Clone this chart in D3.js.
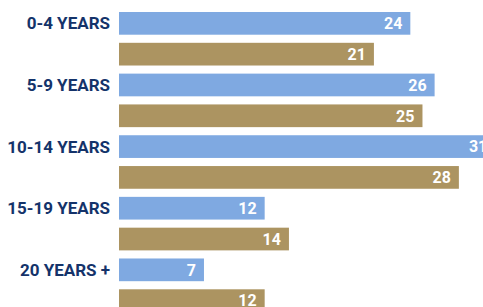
<!DOCTYPE html>
<html>
<head>
<meta charset="utf-8">
<script src="https://cdn.jsdelivr.net/npm/d3@7"></script>
<style>
	body { margin: 0; background: #fff; overflow: hidden; }
	svg { display: block; }
</style>
</head>
<body>
<div id="draw"></div>
<script>
var categories = ['0-4 YEARS', '5-9 YEARS', '10-14 YEARS', '15-19 YEARS', '20 YEARS +'];
var seriesA = [24, 26, 31, 12, 7];
var seriesB = [21, 25, 28, 14, 12];

var width = 483,
	height = 307;

var svg = d3
	.select('#draw')
	.append('svg')
	.attr('width', width)
	.attr('height', height);

// one row per bar, two rows per category
var rows = [];
categories.forEach(function (c, i) {
	rows.push({ cat: c, value: seriesA[i], color: '#7fa9e1', first: true });
	rows.push({ cat: c, value: seriesB[i], color: '#ac9461', first: false });
});

var x = d3.scaleLinear().domain([0, 31]).range([119, 495.3]);

var y = d3
	.scaleBand()
	.domain(d3.range(rows.length))
	.range([12, 312])
	.paddingInner(0.263)
	.paddingOuter(0);

var bars = svg
	.selectAll('.row')
	.data(rows)
	.enter()
	.append('g')
	.attr('class', 'row');

bars
	.append('rect')
	.attr('x', x(0))
	.attr('y', function (d, i) {
		return y(i);
	})
	.attr('width', function (d) {
		return x(d.value) - x(0);
	})
	.attr('height', y.bandwidth())
	.style('fill', function (d) {
		return d.color;
	});

bars
	.append('text')
	.attr('x', function (d) {
		return x(d.value) - 8;
	})
	.attr('y', function (d, i) {
		return y(i) + y.bandwidth() / 2;
	})
	.attr('dy', '0.36em')
	.style('text-anchor', 'end')
	.style('font-family', 'Roboto, sans-serif')
	.style('font-weight', 'bold')
	.style('font-size', '16px')
	.style('fill', '#fff')
	.text(function (d) {
		return d.value;
	});

bars
	.filter(function (d) {
		return d.first;
	})
	.append('text')
	.attr('x', 110)
	.attr('y', function (d) {
		return y(rows.indexOf(d)) + y.bandwidth() / 2;
	})
	.attr('dy', '0.36em')
	.style('text-anchor', 'end')
	.style('font-family', 'Roboto, sans-serif')
	.style('font-weight', 'bold')
	.style('font-size', '17px')
	.style('fill', '#14336a')
	.text(function (d) {
		return d.cat;
	});
</script>
</body>
</html>
